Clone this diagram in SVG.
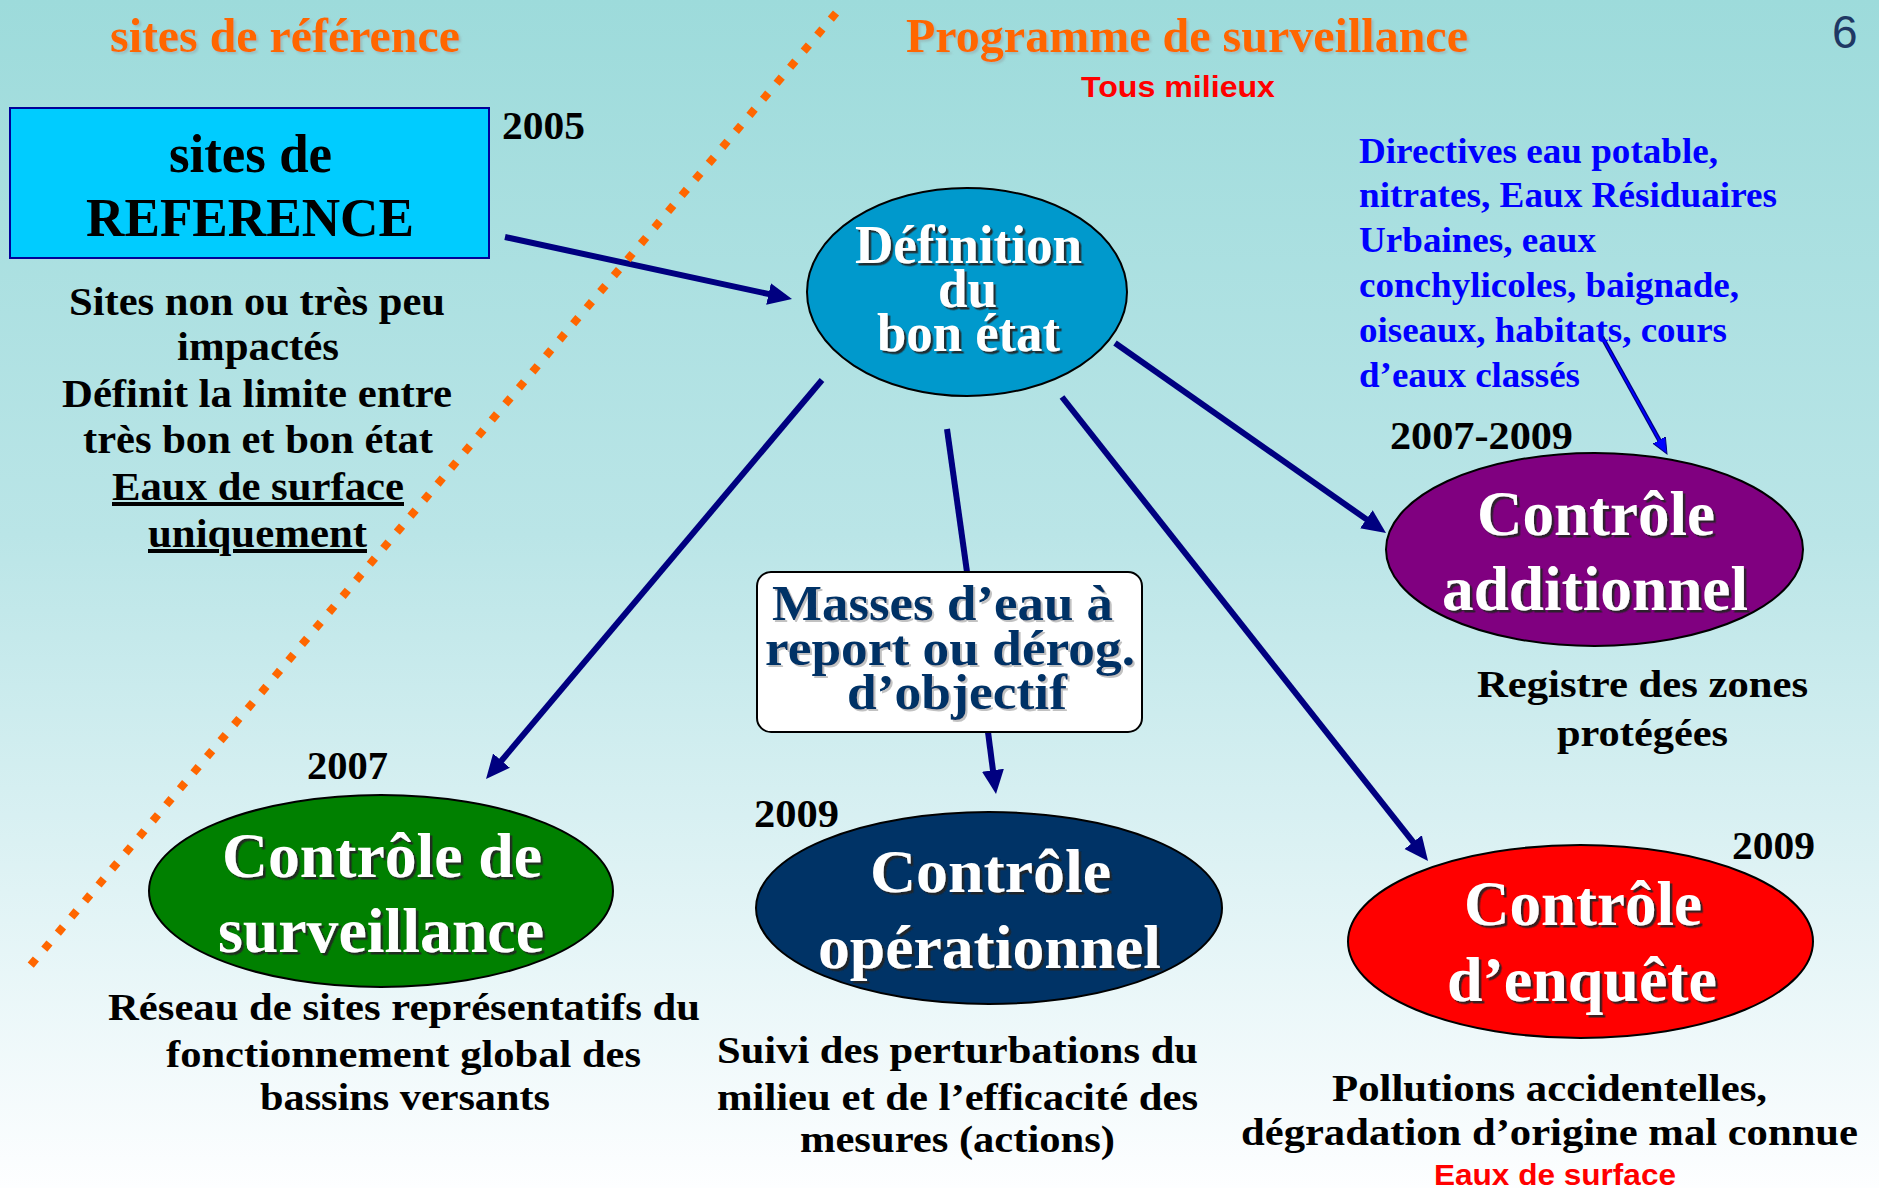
<svg xmlns="http://www.w3.org/2000/svg" width="1879" height="1188" viewBox="0 0 1879 1188">
<defs>
  <linearGradient id="bg" x1="0" y1="0" x2="0" y2="1">
    <stop offset="0" stop-color="#9DDBDB"/>
    <stop offset="0.45" stop-color="#BAE5E7"/>
    <stop offset="0.75" stop-color="#E0F3F5"/>
    <stop offset="1" stop-color="#FDFEFF"/>
  </linearGradient>
  <filter id="shDark" x="-5%" y="-5%" width="115%" height="130%">
    <feDropShadow dx="2.5" dy="2.5" stdDeviation="0.3" flood-color="#222222" flood-opacity="0.9"/>
  </filter>
  <filter id="shLight" x="-5%" y="-5%" width="115%" height="130%">
    <feDropShadow dx="2" dy="2" stdDeviation="0.5" flood-color="#999999" flood-opacity="0.6"/>
  </filter>
  <filter id="shFaint" x="-5%" y="-5%" width="115%" height="130%">
    <feDropShadow dx="2" dy="2" stdDeviation="0.8" flood-color="#888888" flood-opacity="0.35"/>
  </filter>
  <marker id="ah" markerUnits="userSpaceOnUse" viewBox="0 -12 26 24" markerWidth="26" markerHeight="24" refX="2" refY="0" orient="auto">
    <path d="M0,-11 L24,0 L0,11 z" fill="#000080"/>
  </marker>
  <marker id="ahBlue" markerUnits="userSpaceOnUse" viewBox="0 -8 18 16" markerWidth="18" markerHeight="16" refX="1" refY="0" orient="auto">
    <path d="M0,-7 L16,0 L0,7 z" fill="#0000FF" stroke="#000080" stroke-width="1"/>
  </marker>
</defs>
<style>
  .t { font-family: "Liberation Serif", "Times New Roman", serif; font-weight: bold; }
  .a { font-family: "Liberation Sans", Arial, sans-serif; font-weight: bold; fill: #FF0000; }
  .ttl { fill: #FF6600; font-size: 48px; }
  .blk { fill: #000000; }
  .wht { fill: #FFFFFF; }
  .navytxt { fill: #003366; }
  .blue { fill: #0000FF; font-size: 35px; }
  .yr { font-size: 39px; fill: #000000; }
  .desc { font-size: 38px; fill: #000000; }
  .conn { stroke: #000080; stroke-width: 6; fill: none; }
  .node { stroke: #000000; stroke-width: 2; }
</style>

<rect x="0" y="0" width="1879" height="1188" fill="url(#bg)"/>

<!-- headings -->
<g id="headings">
  <text class="t ttl" x="110" y="52" textLength="350" lengthAdjust="spacingAndGlyphs" filter="url(#shFaint)">sites de référence</text>
  <text class="t ttl" x="906" y="52" textLength="562" lengthAdjust="spacingAndGlyphs" filter="url(#shFaint)">Programme de surveillance</text>
  <text class="a" x="1081" y="97" font-size="30" textLength="194" lengthAdjust="spacingAndGlyphs">Tous milieux</text>
  <text x="1832" y="48" font-family="Liberation Sans, Arial, sans-serif" font-size="46" fill="#1F3864">6</text>
</g>

<!-- connectors -->
<g id="connectors">
  <line class="conn" x1="505" y1="237" x2="770.5" y2="294.4" marker-end="url(#ah)"/>
  <line class="conn" x1="822" y1="380" x2="500.2" y2="762.2" marker-end="url(#ah)"/>
  <line class="conn" x1="947" y1="429" x2="967" y2="572"/>
  <line class="conn" x1="988" y1="732" x2="993.2" y2="772.2" marker-end="url(#ah)"/>
  <line class="conn" x1="1115" y1="343" x2="1368" y2="520.4" marker-end="url(#ah)"/>
  <line class="conn" x1="1062" y1="397" x2="1414.4" y2="843.7" marker-end="url(#ah)"/>
  <line x1="1602" y1="337" x2="1659.7" y2="440.9" stroke="#000080" stroke-width="4.5" marker-end="url(#ahBlue)"/>
  <line x1="1602" y1="337" x2="1659.7" y2="440.9" stroke="#0000FF" stroke-width="2"/>
</g>

<!-- separator -->
<g id="separator">
  <line x1="836" y1="13" x2="30" y2="966" stroke="#FF6600" stroke-width="8" stroke-dasharray="8 13"/>
</g>

<!-- reference -->
<g id="node-reference">
  <rect x="10" y="108" width="479" height="150" fill="#00CCFF" stroke="#000099" stroke-width="2"/>
  <text class="t blk" x="169" y="172" font-size="54" textLength="163" lengthAdjust="spacingAndGlyphs">sites de</text>
  <text class="t blk" x="86" y="236" font-size="54" textLength="328" lengthAdjust="spacingAndGlyphs">REFERENCE</text>
</g>
<g id="label-reference">
  <text class="t blk" x="502" y="139" font-size="40" textLength="83" lengthAdjust="spacingAndGlyphs">2005</text>
  <text class="t blk" x="69" y="315" font-size="40" textLength="376" lengthAdjust="spacingAndGlyphs">Sites non ou très peu</text>
  <text class="t blk" x="177" y="360" font-size="40" textLength="162" lengthAdjust="spacingAndGlyphs">impactés</text>
  <text class="t blk" x="62" y="407" font-size="40" textLength="390" lengthAdjust="spacingAndGlyphs">Définit la limite entre</text>
  <text class="t blk" x="83" y="453" font-size="40" textLength="350" lengthAdjust="spacingAndGlyphs">très bon et bon état</text>
  <text class="t blk" x="112" y="500" font-size="40" textLength="292" lengthAdjust="spacingAndGlyphs" text-decoration="underline">Eaux de surface</text>
  <text class="t blk" x="148" y="547" font-size="40" textLength="219" lengthAdjust="spacingAndGlyphs" text-decoration="underline">uniquement</text>
</g>

<!-- définition -->
<g id="node-definition">
  <ellipse class="node" cx="967" cy="292" rx="160" ry="104" fill="#0099CC"/>
  <text class="t wht" font-size="54" filter="url(#shDark)"><tspan x="855" y="263" textLength="227" lengthAdjust="spacingAndGlyphs">Définition</tspan><tspan x="938" y="307" textLength="59" lengthAdjust="spacingAndGlyphs">du</tspan><tspan x="877" y="351" textLength="183" lengthAdjust="spacingAndGlyphs">bon état</tspan></text>
</g>

<!-- masses d'eau -->
<g id="node-masses">
  <rect class="node" x="757" y="572" width="385" height="160" rx="14" ry="14" fill="#FFFFFF"/>
  <text class="t navytxt" font-size="50" filter="url(#shLight)"><tspan x="772" y="620" textLength="341" lengthAdjust="spacingAndGlyphs">Masses d’eau à</tspan><tspan x="765" y="665" textLength="370" lengthAdjust="spacingAndGlyphs">report ou dérog.</tspan><tspan x="847" y="709" textLength="220" lengthAdjust="spacingAndGlyphs">d’objectif</tspan></text>
</g>

<!-- surveillance -->
<g id="node-surveillance">
  <ellipse class="node" cx="381" cy="891" rx="232" ry="96" fill="#008000"/>
  <g filter="url(#shDark)">
    <text class="t wht" x="222" y="877" font-size="63" textLength="320" lengthAdjust="spacingAndGlyphs">Contrôle de</text>
    <text class="t wht" x="218" y="952" font-size="63" textLength="326" lengthAdjust="spacingAndGlyphs">surveillance</text>
  </g>
</g>
<g id="label-surveillance">
  <text class="t yr" x="307" y="779" textLength="81" lengthAdjust="spacingAndGlyphs">2007</text>
  <text class="t desc" x="108" y="1020" textLength="592" lengthAdjust="spacingAndGlyphs">Réseau de sites représentatifs du</text>
  <text class="t desc" x="166" y="1067" textLength="475" lengthAdjust="spacingAndGlyphs">fonctionnement global des</text>
  <text class="t desc" x="260" y="1110" textLength="290" lengthAdjust="spacingAndGlyphs">bassins versants</text>
</g>

<!-- opérationnel -->
<g id="node-operationnel">
  <ellipse class="node" cx="989" cy="908" rx="233" ry="96" fill="#003366"/>
  <g filter="url(#shDark)">
    <text class="t wht" x="870" y="892" font-size="62" textLength="241" lengthAdjust="spacingAndGlyphs">Contrôle</text>
    <text class="t wht" x="818" y="968" font-size="62" textLength="343" lengthAdjust="spacingAndGlyphs">opérationnel</text>
  </g>
</g>
<g id="label-operationnel">
  <text class="t yr" x="754" y="827" textLength="85" lengthAdjust="spacingAndGlyphs">2009</text>
  <text class="t desc" x="717" y="1063" textLength="481" lengthAdjust="spacingAndGlyphs">Suivi des perturbations du</text>
  <text class="t desc" x="717" y="1110" textLength="481" lengthAdjust="spacingAndGlyphs">milieu et de l’efficacité des</text>
  <text class="t desc" x="800" y="1152" textLength="315" lengthAdjust="spacingAndGlyphs">mesures (actions)</text>
</g>

<!-- additionnel -->
<g id="node-additionnel">
  <ellipse class="node" cx="1594.5" cy="549.5" rx="208.5" ry="96.5" fill="#800080"/>
  <g filter="url(#shDark)">
    <text class="t wht" x="1477" y="535" font-size="64" textLength="238" lengthAdjust="spacingAndGlyphs">Contrôle</text>
    <text class="t wht" x="1442" y="610" font-size="64" textLength="306" lengthAdjust="spacingAndGlyphs">additionnel</text>
  </g>
</g>
<g id="label-additionnel">
  <text class="t yr" x="1390" y="449" textLength="183" lengthAdjust="spacingAndGlyphs">2007-2009</text>
  <text class="t blue" x="1359" y="163" textLength="359" lengthAdjust="spacingAndGlyphs">Directives eau potable,</text>
  <text class="t blue" x="1359" y="207" textLength="418" lengthAdjust="spacingAndGlyphs">nitrates, Eaux Résiduaires</text>
  <text class="t blue" x="1359" y="252" textLength="237" lengthAdjust="spacingAndGlyphs">Urbaines, eaux</text>
  <text class="t blue" x="1359" y="297" textLength="380" lengthAdjust="spacingAndGlyphs">conchylicoles, baignade,</text>
  <text class="t blue" x="1359" y="342" textLength="368" lengthAdjust="spacingAndGlyphs">oiseaux, habitats, cours</text>
  <text class="t blue" x="1359" y="387" textLength="221" lengthAdjust="spacingAndGlyphs">d’eaux classés</text>
  <text class="t desc" x="1477" y="697" textLength="331" lengthAdjust="spacingAndGlyphs">Registre des zones</text>
  <text class="t desc" x="1557" y="746" textLength="171" lengthAdjust="spacingAndGlyphs">protégées</text>
</g>

<!-- enquête -->
<g id="node-enquete">
  <ellipse class="node" cx="1580.5" cy="941.5" rx="232.5" ry="96.5" fill="#FF0000"/>
  <g filter="url(#shDark)">
    <text class="t wht" x="1464" y="925" font-size="64" textLength="238" lengthAdjust="spacingAndGlyphs">Contrôle</text>
    <text class="t wht" x="1447" y="1001" font-size="64" textLength="270" lengthAdjust="spacingAndGlyphs">d’enquête</text>
  </g>
</g>
<g id="label-enquete">
  <text class="t yr" x="1732" y="859" textLength="83" lengthAdjust="spacingAndGlyphs">2009</text>
  <text class="t desc" x="1332" y="1101" textLength="435" lengthAdjust="spacingAndGlyphs">Pollutions accidentelles,</text>
  <text class="t desc" x="1241" y="1145" textLength="617" lengthAdjust="spacingAndGlyphs">dégradation d’origine mal connue</text>
  <text class="a" x="1434" y="1185" font-size="30" textLength="242" lengthAdjust="spacingAndGlyphs">Eaux de surface</text>
</g>
</svg>
